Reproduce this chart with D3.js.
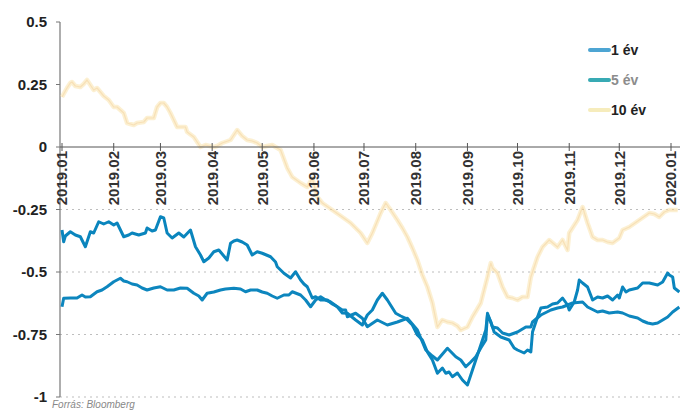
<!DOCTYPE html>
<html>
<head>
<meta charset="utf-8">
<script src="https://cdn.jsdelivr.net/npm/d3@7"></script>
<style>
  body { margin: 0; background: #fff; }
  svg { display: block; font-family: "Liberation Sans", Arial, sans-serif; }
</style>
</head>
<body>
<svg id="chart" width="680" height="411"></svg>
<script>
// napok 2019.01.01-tol, hozam (%)
var ev1 = [[0,-0.639],[1,-0.605],[5,-0.604],[9,-0.604],[12,-0.592],[14,-0.6],[17,-0.599],[21,-0.579],[24,-0.572],[27,-0.559],[31,-0.539],[35,-0.525],[37,-0.536],[39,-0.539],[42,-0.548],[45,-0.552],[48,-0.564],[51,-0.572],[55,-0.564],[59,-0.559],[63,-0.572],[67,-0.572],[71,-0.564],[75,-0.565],[79,-0.585],[82,-0.596],[84,-0.612],[87,-0.585],[91,-0.58],[95,-0.572],[98,-0.568],[103,-0.565],[107,-0.568],[110,-0.579],[113,-0.572],[117,-0.572],[120,-0.58],[123,-0.585],[126,-0.596],[129,-0.605],[133,-0.592],[136,-0.592],[138,-0.579],[143,-0.592],[146,-0.612],[149,-0.639],[152,-0.612],[155,-0.599],[158,-0.612],[161,-0.62],[165,-0.639],[168,-0.652],[170,-0.652],[171,-0.679],[176,-0.665],[180,-0.685],[183,-0.719],[189,-0.692],[195,-0.712],[201,-0.7],[207,-0.685],[213,-0.732],[218,-0.812],[222,-0.836],[225,-0.852],[231,-0.805],[236,-0.839],[239,-0.852],[242,-0.879],[245,-0.86],[248,-0.839],[251,-0.804],[254,-0.772],[255,-0.665],[257,-0.7],[258,-0.72],[261,-0.724],[264,-0.744],[268,-0.752],[273,-0.74],[278,-0.72],[281,-0.72],[282,-0.7],[287,-0.672],[293,-0.652],[297,-0.644],[300,-0.64],[306,-0.624],[312,-0.62],[315,-0.64],[321,-0.66],[324,-0.656],[328,-0.664],[333,-0.66],[336,-0.664],[340,-0.676],[345,-0.684],[348,-0.696],[351,-0.704],[354,-0.708],[357,-0.704],[360,-0.692],[363,-0.68],[366,-0.66],[370,-0.64]];

var ev5 = [[0,-0.332],[1,-0.379],[2,-0.356],[5,-0.339],[8,-0.352],[11,-0.359],[14,-0.399],[17,-0.339],[19,-0.344],[22,-0.299],[25,-0.308],[28,-0.299],[31,-0.312],[33,-0.304],[37,-0.359],[40,-0.352],[42,-0.344],[46,-0.352],[50,-0.344],[51,-0.324],[54,-0.336],[56,-0.332],[59,-0.279],[61,-0.284],[63,-0.344],[66,-0.364],[70,-0.344],[73,-0.36],[77,-0.332],[80,-0.399],[83,-0.432],[85,-0.459],[88,-0.444],[91,-0.419],[94,-0.412],[96,-0.428],[99,-0.452],[101,-0.385],[103,-0.376],[105,-0.372],[108,-0.38],[111,-0.392],[114,-0.432],[117,-0.419],[120,-0.425],[125,-0.439],[128,-0.46],[129,-0.479],[133,-0.505],[137,-0.524],[140,-0.499],[143,-0.532],[145,-0.548],[147,-0.559],[150,-0.604],[152,-0.599],[155,-0.612],[159,-0.612],[162,-0.628],[165,-0.639],[168,-0.664],[171,-0.665],[176,-0.692],[180,-0.712],[183,-0.672],[186,-0.652],[189,-0.612],[192,-0.585],[195,-0.612],[200,-0.665],[203,-0.676],[206,-0.685],[210,-0.712],[213,-0.752],[216,-0.772],[219,-0.82],[222,-0.852],[225,-0.905],[228,-0.884],[230,-0.905],[232,-0.9],[234,-0.919],[237,-0.904],[240,-0.932],[243,-0.952],[246,-0.892],[249,-0.832],[252,-0.772],[254,-0.732],[255,-0.672],[257,-0.7],[259,-0.74],[263,-0.76],[268,-0.772],[271,-0.804],[273,-0.812],[277,-0.824],[279,-0.812],[281,-0.82],[282,-0.74],[285,-0.68],[287,-0.644],[291,-0.64],[294,-0.628],[297,-0.624],[300,-0.604],[303,-0.632],[304,-0.652],[307,-0.62],[309,-0.572],[310,-0.532],[312,-0.544],[315,-0.56],[318,-0.612],[321,-0.6],[324,-0.604],[327,-0.596],[330,-0.612],[333,-0.592],[334,-0.604],[336,-0.56],[338,-0.58],[340,-0.572],[345,-0.564],[348,-0.544],[352,-0.544],[357,-0.552],[360,-0.54],[363,-0.504],[364,-0.512],[366,-0.52],[367,-0.564],[370,-0.58]];

var ev10 = [[0,0.2],[3,0.236],[5,0.256],[6,0.26],[8,0.244],[11,0.24],[13,0.252],[15,0.268],[17,0.248],[19,0.228],[21,0.236],[25,0.204],[28,0.188],[31,0.16],[33,0.16],[37,0.136],[39,0.096],[43,0.088],[45,0.096],[49,0.1],[51,0.116],[55,0.116],[57,0.16],[59,0.176],[61,0.176],[63,0.16],[65,0.136],[67,0.108],[69,0.08],[71,0.08],[74,0.08],[75,0.06],[79,0.04],[83,0],[86,0.008],[91,0],[93,0.004],[96,0.016],[101,0.028],[105,0.068],[108,0.044],[111,0.028],[114,0.024],[117,0.016],[120,0],[123,0.004],[126,0.008],[131,-0.012],[135,-0.084],[138,-0.12],[143,-0.144],[147,-0.16],[150,-0.124],[153,-0.2],[156,-0.224],[162,-0.252],[168,-0.28],[173,-0.304],[176,-0.324],[179,-0.344],[183,-0.384],[186,-0.344],[191,-0.264],[194,-0.224],[197,-0.252],[201,-0.292],[204,-0.324],[207,-0.36],[210,-0.404],[213,-0.452],[216,-0.512],[219,-0.56],[222,-0.624],[225,-0.72],[227,-0.7],[228,-0.692],[231,-0.7],[234,-0.704],[237,-0.716],[239,-0.732],[243,-0.72],[246,-0.68],[251,-0.624],[255,-0.52],[257,-0.464],[258,-0.484],[261,-0.504],[264,-0.56],[267,-0.6],[270,-0.604],[273,-0.612],[276,-0.6],[279,-0.6],[281,-0.52],[285,-0.44],[288,-0.4],[292,-0.372],[297,-0.4],[300,-0.372],[303,-0.412],[304,-0.344],[309,-0.292],[312,-0.24],[315,-0.304],[318,-0.36],[321,-0.372],[324,-0.372],[327,-0.38],[330,-0.384],[334,-0.364],[336,-0.332],[340,-0.32],[346,-0.292],[352,-0.264],[355,-0.268],[358,-0.28],[361,-0.26],[364,-0.252],[369,-0.252]];

var yTicks = [0.5, 0.25, 0, -0.25, -0.5, -0.75, -1];
var yLabels = ["0.5", "0.25", "0", "-0.25", "-0.5", "-0.75", "-1"];
var monthLabels = ["2019.01","2019.02","2019.03","2019.04","2019.05","2019.06","2019.07","2019.08","2019.09","2019.10","2019.11","2019.12","2020.01"];
var seriesNames = ["1 év", "5 év", "10 év"];

var svg = d3.select("#chart");
var start = new Date(2019, 0, 1);
var toDate = function (d) { return d3.timeDay.offset(start, d); };

var x = d3.scaleTime().domain([start, new Date(2020, 0, 1)]).range([62, 671]);
var y = d3.scaleLinear().domain([-1, 0.5]).range([397, 22]);
var xLeft = 60, xRight = 680;

// rácsvonalak
svg.append("g").selectAll("line")
    .data(yTicks.filter(function (t) { return t < 0; }))
    .enter().append("line")
    .attr("x1", xLeft).attr("x2", xRight)
    .attr("y1", function (d) { return y(d); }).attr("y2", function (d) { return y(d); })
    .attr("stroke", "#9a9a9a").attr("stroke-width", 0.8)
    .attr("stroke-dasharray", "2,4").attr("opacity", 0.8);

// y tengely
svg.append("line").attr("x1", xLeft).attr("x2", xLeft).attr("y1", y(0.5)).attr("y2", y(-1))
    .attr("stroke", "#777").attr("stroke-width", 1.2);
svg.append("g").selectAll("line").data(yTicks).enter().append("line")
    .attr("x1", xLeft - 4).attr("x2", xLeft)
    .attr("y1", function (d) { return y(d); }).attr("y2", function (d) { return y(d); })
    .attr("stroke", "#777");
svg.append("g").selectAll("text").data(yTicks).enter().append("text")
    .attr("x", 47).attr("y", function (d) { return y(d); }).attr("dy", "0.35em")
    .attr("text-anchor", "end").attr("font-size", 15).attr("font-weight", "bold").attr("fill", "#222")
    .text(function (d, i) { return yLabels[i]; });

// vonalak
var line = d3.line()
    .x(function (d) { return x(toDate(d[0])); })
    .y(function (d) { return y(d[1]); });

svg.append("path").datum(ev10).attr("d", line).attr("fill", "none")
    .attr("stroke", "#f9e2a6").attr("stroke-width", 4.5).attr("stroke-linejoin", "round").attr("opacity", 0.5);
svg.append("path").datum(ev10).attr("d", line).attr("fill", "none")
    .attr("stroke", "#eeb870").attr("stroke-width", 1.2).attr("stroke-linejoin", "round").attr("opacity", 0.28);

svg.append("path").datum(ev1).attr("d", line).attr("fill", "none")
    .attr("stroke", "#0d86be").attr("stroke-width", 3).attr("stroke-linejoin", "round");
svg.append("path").datum(ev5).attr("d", line).attr("fill", "none")
    .attr("stroke", "#0a85bd").attr("stroke-width", 3).attr("stroke-linejoin", "round");

// x tengely a 0-nál
var y0 = y(0);
svg.append("line").attr("x1", xLeft).attr("x2", xRight).attr("y1", y0).attr("y2", y0)
    .attr("stroke", "#555").attr("stroke-width", 1);
var months = monthLabels.map(function (m, i) { return new Date(2019, i, 1); });
svg.append("g").selectAll("line").data(months).enter().append("line")
    .attr("x1", function (d) { return x(d); }).attr("x2", function (d) { return x(d); })
    .attr("y1", y0 - 4).attr("y2", y0 + 4).attr("stroke", "#555");
svg.append("g").selectAll("text").data(months).enter().append("text")
    .attr("transform", function (d) { return "translate(" + x(d) + "," + (y0 + 4) + ") rotate(-90)"; })
    .attr("dy", "0.36em").attr("text-anchor", "end")
    .attr("font-size", 15).attr("font-weight", "bold").attr("fill", "#333")
    .text(function (d, i) { return monthLabels[i]; });

// jelmagyarázat
var legendColors = ["#4da5d3", "#38aab4", "#f6ecbc"];
var legendText = ["#222", "#8c8c8c", "#222"];
var lg = svg.append("g").selectAll("g").data(seriesNames).enter().append("g")
    .attr("transform", function (d, i) { return "translate(590," + (50 + i * 30) + ")"; });
lg.append("line").attr("x1", 0).attr("x2", 19).attr("y1", 0).attr("y2", 0)
    .attr("stroke", function (d, i) { return legendColors[i]; })
    .attr("stroke-width", 4).attr("stroke-linecap", "round");
lg.append("text").attr("x", 21).attr("dy", "0.36em")
    .attr("font-size", 14).attr("font-weight", "bold")
    .attr("fill", function (d, i) { return legendText[i]; })
    .text(function (d) { return d; });

// forrás
svg.append("text").attr("x", 52).attr("y", 408).attr("font-size", 10).attr("font-style", "italic")
    .attr("fill", "#888").text("Forrás: Bloomberg");
</script>
</body>
</html>
